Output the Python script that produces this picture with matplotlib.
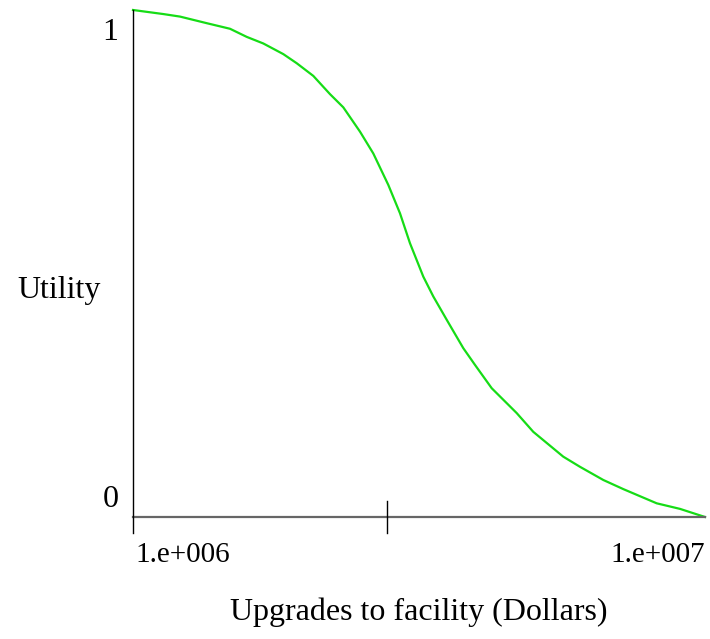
import matplotlib
matplotlib.use("Agg")
import matplotlib.pyplot as plt

# utility curve (dollars, utility 0..1)
dollars = [1.000e6, 1.477e6, 1.740e6, 2.160e6, 2.526e6, 2.789e6, 3.050e6, 3.365e6,
           3.576e6, 3.837e6, 4.100e6, 4.309e6, 4.572e6, 4.781e6, 5.017e6, 5.201e6,
           5.358e6, 5.568e6, 5.725e6, 5.936e6, 6.197e6, 6.381e6, 6.644e6, 7.037e6,
           7.298e6, 7.770e6, 8.033e6, 8.400e6, 8.715e6, 9.240e6, 9.607e6, 1.000e7]
utility = [1.000, 0.992, 0.987, 0.974, 0.963, 0.947, 0.934, 0.913,
           0.895, 0.870, 0.834, 0.808, 0.760, 0.717, 0.655, 0.599,
           0.540, 0.474, 0.435, 0.389, 0.333, 0.300, 0.254, 0.205,
           0.168, 0.119, 0.099, 0.073, 0.055, 0.027, 0.016, 0.000]

x_min, x_max, x_mid = 1.0e6, 1.0e7, 5.0e6
x_labels = ["1.e+006", "1.e+007"]
y_labels = ["0", "1"]

plt.rcParams["font.family"] = "Liberation Serif"

W, H = 710, 639
fig = plt.figure(figsize=(W / 100, H / 100), dpi=100)
ax = fig.add_axes([133 / W, (H - 517) / H, (705 - 133) / W, (517 - 10) / H])
ax.set_xlim(x_min, x_max)
ax.set_ylim(0, 1)
ax.axis("off")

ax.plot(dollars, utility, color="#16dc16", linewidth=1.6, clip_on=False)

# axis lines drawn by hand
ext = 16 / 507
ax.plot([x_min, x_max], [0, 0], color="#666666", linewidth=1.6, clip_on=False)
ax.plot([x_min, x_min], [-ext, 1.0], color="black", linewidth=1.0, clip_on=False)
ax.plot([x_mid, x_mid], [-ext, ext], color="black", linewidth=1.0, clip_on=False)

def px(x, y):
    return x / W, 1 - y / H

fs = 23
fig.text(*px(135, 562), x_labels[0], ha="left", va="baseline", fontsize=21)
fig.text(*px(705, 562), x_labels[1], ha="right", va="baseline", fontsize=21)
fig.text(*px(119, 507), y_labels[0], ha="right", va="baseline", fontsize=fs)
fig.text(*px(118, 40), y_labels[1], ha="right", va="baseline", fontsize=fs)
fig.text(*px(59, 298), "Utility", ha="center", va="baseline", fontsize=fs)
fig.text(*px(419, 620), "Upgrades to facility (Dollars)", ha="center", va="baseline", fontsize=fs)

plt.savefig("out.png", dpi=100)
